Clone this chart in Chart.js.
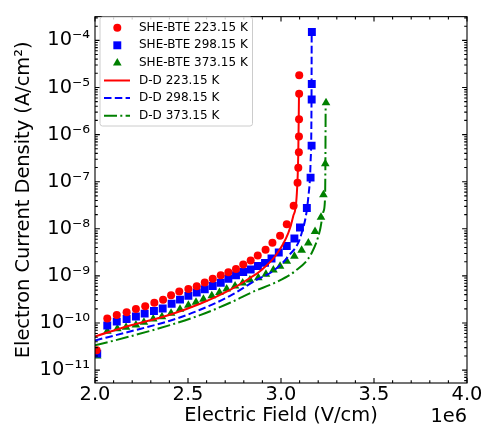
<!DOCTYPE html>
<html><head><meta charset="utf-8">
<script src="https://cdn.jsdelivr.net/npm/chart.js@4/dist/chart.umd.min.js"></script>
<style>html,body{margin:0;padding:0;background:#fff}</style>
</head><body>
<canvas id="c" width="484" height="427"></canvas>
<script>
// ---- data (E in V/cm, J in A/cm^2) ----
const E_she_223 = [2.009e6,2.066e6,2.117e6,2.170e6,2.220e6,2.270e6,2.319e6,2.366e6,2.409e6,2.453e6,2.502e6,2.547e6,2.590e6,2.633e6,2.676e6,2.717e6,2.758e6,2.797e6,2.837e6,2.875e6,2.917e6,2.954e6,2.995e6,3.031e6,3.068e6,3.089e6,3.093e6,3.096e6,3.0965e6,3.097e6,3.0975e6,3.098e6];
const J_she_223 = [2.63e-11,1.24e-10,1.48e-10,1.70e-10,1.98e-10,2.27e-10,2.69e-10,3.10e-10,3.90e-10,4.69e-10,5.30e-10,6.03e-10,7.24e-10,8.71e-10,1.03e-9,1.19e-9,1.41e-9,1.75e-9,2.13e-9,2.70e-9,3.60e-9,5.05e-9,7.11e-9,1.25e-8,3.08e-8,9.53e-8,1.97e-7,4.22e-7,9.14e-7,2.11e-6,7.33e-6,1.81e-5];
const E_she_298 = [2.012e6,2.066e6,2.117e6,2.170e6,2.220e6,2.267e6,2.317e6,2.364e6,2.412e6,2.457e6,2.502e6,2.547e6,2.590e6,2.633e6,2.676e6,2.717e6,2.758e6,2.797e6,2.837e6,2.876e6,2.914e6,2.949e6,2.988e6,3.031e6,3.072e6,3.102e6,3.139e6,3.159e6,3.1645e6,3.165e6,3.1655e6,3.166e6];
const J_she_298 = [2.24e-11,8.83e-11,1.07e-10,1.22e-10,1.38e-10,1.58e-10,1.80e-10,2.04e-10,2.56e-10,3.14e-10,3.77e-10,4.43e-10,5.21e-10,6.12e-10,7.18e-10,8.71e-10,1.03e-9,1.21e-9,1.37e-9,1.63e-9,1.89e-9,2.35e-9,3.13e-9,4.31e-9,6.25e-9,1.07e-8,2.76e-8,1.22e-7,5.82e-7,5.56e-6,1.19e-5,1.51e-4];
const E_she_373 = [2.012e6,2.066e6,2.120e6,2.167e6,2.220e6,2.263e6,2.313e6,2.360e6,2.409e6,2.457e6,2.502e6,2.543e6,2.583e6,2.628e6,2.669e6,2.708e6,2.753e6,2.794e6,2.833e6,2.878e6,2.919e6,2.959e6,2.995e6,3.031e6,3.072e6,3.111e6,3.147e6,3.183e6,3.215e6,3.228e6,3.238e6,3.242e6];
const J_she_373 = [2.00e-11,6.70e-11,7.52e-11,8.13e-11,9.12e-11,1.04e-10,1.22e-10,1.36e-10,1.62e-10,1.96e-10,2.38e-10,2.75e-10,3.18e-10,3.77e-10,4.47e-10,5.30e-10,6.12e-10,7.08e-10,8.18e-10,9.14e-10,1.08e-9,1.33e-9,1.61e-9,2.05e-9,2.61e-9,3.49e-9,4.98e-9,8.77e-9,1.75e-8,5.26e-8,2.39e-7,4.74e-6];

const E_dd_223 = [2.000e6,2.188e6,2.403e6,2.565e6,2.726e6,2.833e6,2.887e6,2.968e6,3.039e6,3.065e6,3.084e6,3.093e6,3.097e6];
const J_dd_223 = [5.19e-11,8.83e-11,1.50e-10,2.56e-10,5.05e-10,9.02e-10,1.26e-9,2.61e-9,8.07e-9,1.81e-8,4.78e-8,4.22e-7,8.89e-6];
const E_dd_298 = [2.000e6,2.188e6,2.403e6,2.565e6,2.726e6,2.876e6,2.950e6,3.039e6,3.111e6,3.147e6,3.159e6,3.164e6,3.165e6];
const J_dd_298 = [4.27e-11,6.61e-11,1.12e-10,1.91e-10,3.77e-10,8.59e-10,1.21e-9,2.61e-9,8.07e-9,4.78e-8,2.59e-7,4.74e-6,1.51e-4];
const E_dd_373 = [2.000e6,2.188e6,2.403e6,2.565e6,2.726e6,2.860e6,2.968e6,3.075e6,3.165e6,3.210e6,3.228e6,3.237e6,3.239e6,3.240e6];
const J_dd_373 = [3.35e-11,5.19e-11,9.04e-11,1.47e-10,2.69e-10,4.80e-10,7.18e-10,1.26e-9,3.07e-9,9.53e-9,2.31e-8,4.78e-8,4.22e-7,4.10e-6];

const xTicks = [2.0e6,2.5e6,3.0e6,3.5e6,4.0e6];
const xTickLabels = ['2.0','2.5','3.0','3.5','4.0'];
const yTicks = [1e-11,1e-10,1e-9,1e-8,1e-7,1e-6,1e-5,1e-4];
const yTickLabels = ['10⁻¹¹','10⁻¹⁰','10⁻⁹','10⁻⁸','10⁻⁷','10⁻⁶','10⁻⁵','10⁻⁴'];
const xOffsetLabel = '1e6';
const xTitle = 'Electric Field (V/cm)';
const yTitle = 'Electron Current Density (A/cm²)';

const FONT = 'DejaVu Sans';
const pts = (xs, ys) => xs.map((v, i) => ({x: v, y: ys[i]}));

const RED = '#ff0000', BLUE = '#0000ff', GREEN = '#008000';

const datasets = [
  {label:'SHE-BTE 223.15 K', data:pts(E_she_223,J_she_223), showLine:false, pointStyle:'circle', pointRadius:4, backgroundColor:RED, borderColor:RED, borderWidth:0, order:1, clip:0},
  {label:'SHE-BTE 298.15 K', data:pts(E_she_298,J_she_298), showLine:false, pointStyle:'rect', pointRadius:5.6, backgroundColor:BLUE, borderColor:BLUE, borderWidth:0, order:1, clip:0},
  {label:'SHE-BTE 373.15 K', data:pts(E_she_373,J_she_373), showLine:false, pointStyle:'triangle', pointRadius:5, backgroundColor:GREEN, borderColor:GREEN, borderWidth:0, order:1, clip:0},
  {label:'D-D 223.15 K', data:pts(E_dd_223,J_dd_223), showLine:true, pointRadius:0, borderColor:RED, borderWidth:2, borderDash:[], cubicInterpolationMode:'monotone', fill:false, order:0, clip:0},
  {label:'D-D 298.15 K', data:pts(E_dd_298,J_dd_298), showLine:true, pointRadius:0, borderColor:BLUE, borderWidth:2, borderDash:[7.5,3.3], cubicInterpolationMode:'monotone', fill:false, order:0, clip:0},
  {label:'D-D 373.15 K', data:pts(E_dd_373,J_dd_373), showLine:true, pointRadius:0, borderColor:GREEN, borderWidth:2, borderDash:[13,3.3,2,3.3], cubicInterpolationMode:'monotone', fill:false, order:0, clip:0}
];

// frame + inward ticks on all four sides (matplotlib style)
const frameTicks = {
  id:'frameTicks',
  afterDatasetsDraw(chart){
    const {ctx, chartArea:a, scales:{x, y}} = chart;
    ctx.save();
    ctx.strokeStyle = '#000';
    ctx.lineWidth = 1.1;
    const vt = (px, len) => {
      ctx.beginPath();
      ctx.moveTo(px, a.bottom); ctx.lineTo(px, a.bottom - len);
      ctx.moveTo(px, a.top); ctx.lineTo(px, a.top + len);
      ctx.stroke();
    };
    const ht = (py, len) => {
      ctx.beginPath();
      ctx.moveTo(a.left, py); ctx.lineTo(a.left + len, py);
      ctx.moveTo(a.right, py); ctx.lineTo(a.right - len, py);
      ctx.stroke();
    };
    xTicks.forEach(v => vt(x.getPixelForValue(v), 4.9));
    for (let v = x.min; v <= x.max + 1; v += 1e5) {
      if (!xTicks.some(t => Math.abs(t - v) < 1)) vt(x.getPixelForValue(v), 2.8);
    }
    yTicks.forEach(v => ht(y.getPixelForValue(v), 4.9));
    for (let e = -12; e <= -3; e++) {
      for (let m = 2; m <= 9; m++) {
        const v = m * Math.pow(10, e);
        if (v > y.min && v < y.max) ht(y.getPixelForValue(v), 2.8);
      }
    }
    ctx.lineWidth = 1.1;
    ctx.strokeRect(a.left, a.top, a.right - a.left, a.bottom - a.top);
    ctx.restore();
  },
  afterDraw(chart){
    const {ctx, chartArea:a} = chart;
    ctx.save();
    ctx.fillStyle = '#000';
    ctx.font = '19.4px "' + FONT + '"';
    ctx.textAlign = 'right';
    ctx.textBaseline = 'alphabetic';
    ctx.fillText(xOffsetLabel, a.right, 421.5);
    ctx.restore();
  }
};

// matplotlib-like legend box in upper left
const mplLegend = {
  id:'mplLegend',
  afterDraw(chart){
    const ctx = chart.ctx;
    const bx = 100, by = 17, bw = 152.5, bh = 109, r = 2.5;
    ctx.save();
    ctx.beginPath();
    ctx.moveTo(bx + r, by);
    ctx.lineTo(bx + bw - r, by); ctx.arcTo(bx + bw, by, bx + bw, by + r, r);
    ctx.lineTo(bx + bw, by + bh - r); ctx.arcTo(bx + bw, by + bh, bx + bw - r, by + bh, r);
    ctx.lineTo(bx + r, by + bh); ctx.arcTo(bx, by + bh, bx, by + bh - r, r);
    ctx.lineTo(bx, by + r); ctx.arcTo(bx, by, bx + r, by, r);
    ctx.closePath();
    ctx.fillStyle = 'rgba(255,255,255,0.8)';
    ctx.fill();
    ctx.strokeStyle = '#cccccc';
    ctx.lineWidth = 1;
    ctx.stroke();
    chart.data.datasets.forEach((ds, i) => {
      const cy = 27.7 + i * 17.6;
      if (ds.showLine) {
        ctx.beginPath();
        ctx.setLineDash(ds.borderDash || []);
        ctx.strokeStyle = ds.borderColor;
        ctx.lineWidth = ds.borderWidth;
        ctx.moveTo(104, cy); ctx.lineTo(130, cy);
        ctx.stroke();
        ctx.setLineDash([]);
      } else {
        const cx = 117.3;
        ctx.fillStyle = ds.backgroundColor;
        ctx.beginPath();
        if (ds.pointStyle === 'circle') {
          ctx.arc(cx, cy, ds.pointRadius, 0, Math.PI * 2);
        } else if (ds.pointStyle === 'rect') {
          const s = ds.pointRadius * Math.SQRT1_2;
          ctx.rect(cx - s, cy - s, 2 * s, 2 * s);
        } else {
          const rr = ds.pointRadius;
          ctx.moveTo(cx, cy - rr);
          ctx.lineTo(cx + rr * Math.sin(2 * Math.PI / 3), cy - rr * Math.cos(2 * Math.PI / 3));
          ctx.lineTo(cx + rr * Math.sin(4 * Math.PI / 3), cy - rr * Math.cos(4 * Math.PI / 3));
          ctx.closePath();
        }
        ctx.fill();
      }
      ctx.fillStyle = '#000';
      ctx.font = '12px "' + FONT + '"';
      ctx.textAlign = 'left';
      ctx.textBaseline = 'middle';
      ctx.fillText(ds.label, 139, cy);
    });
    ctx.restore();
  }
};

Chart.defaults.font.family = FONT;
Chart.defaults.color = '#000';

new Chart(document.getElementById('c'), {
  type:'scatter',
  data:{datasets},
  options:{
    responsive:false,
    animation:false,
    devicePixelRatio:1,
    layout:{padding:{left:0, right:17, top:13, bottom:0}},
    plugins:{legend:{display:false}, tooltip:{enabled:false}},
    scales:{
      x:{
        type:'linear', min:2.0e6, max:4.0e6,
        afterBuildTicks(s){ s.ticks = xTicks.map(v => ({value:v})); },
        afterFit(s){ s.height = 44; },
        grid:{display:false, drawTicks:false},
        border:{display:false},
        ticks:{autoSkip:false, maxRotation:0, minRotation:0, padding:0, font:{size:19.4},
          callback(v){ const i = xTicks.findIndex(t => Math.abs(t - v) < 1); return i >= 0 ? xTickLabels[i] : ''; }},
        title:{display:true, text:xTitle, font:{size:19.4, lineHeight:1.15}, padding:{top:0, bottom:0}}
      },
      y:{
        type:'logarithmic', min:5.33e-12, max:3.19e-4,
        afterBuildTicks(s){ s.ticks = yTicks.map(v => ({value:v, major:true})); },
        afterFit(s){ s.width = 95; },
        grid:{display:false, drawTicks:false},
        border:{display:false},
        ticks:{autoSkip:false, padding:5, font:{size:19.4},
          callback(v){ const i = yTicks.findIndex(t => Math.abs(Math.log10(t) - Math.log10(v)) < 1e-6); return i >= 0 ? yTickLabels[i] : ''; }},
        title:{display:true, text:yTitle, font:{size:19.4, lineHeight:1.15}, padding:{top:13, bottom:0}}
      }
    }
  },
  plugins:[frameTicks, mplLegend]
});
</script>
</body></html>
